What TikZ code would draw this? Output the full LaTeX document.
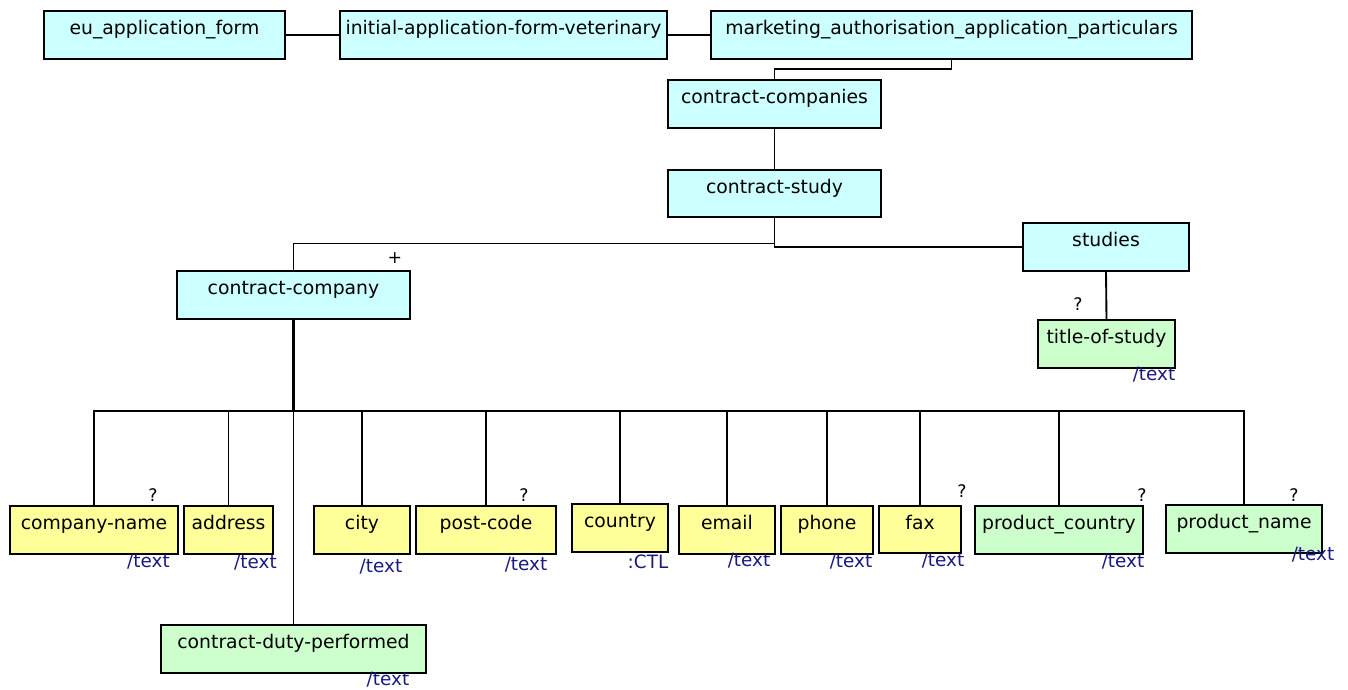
\documentclass[tikz,border=0pt]{standalone}
\usepackage{fontspec}
\setmainfont{DejaVu Sans}
\definecolor{cyanfill}{RGB}{204,255,255}
\definecolor{yelfill}{RGB}{255,255,153}
\definecolor{grnfill}{RGB}{204,255,204}
\definecolor{typeblue}{RGB}{25,25,130}
\tikzset{
  box/.style={draw=black,line width=1.6pt,inner sep=0pt,outer sep=0pt},
  lbl/.style={inner sep=0pt,font=\fontsize{14.1}{16}\selectfont},
  typ/.style={inner sep=0pt,text=typeblue,font=\fontsize{13.8}{16}\selectfont},
  card/.style={inner sep=0pt,font=\fontsize{13}{15}\selectfont},
  conn/.style={line width=1.4pt},
  thick conn/.style={line width=2.2pt}
}
\newcommand\bx[7]{%
  \node[box,fill=#6,minimum width={(#4-#2)*0.75pt},minimum height={(#5-#3)*0.75pt},anchor=north west] (#1) at (#2,#3) {};
  \node[lbl,anchor=base] (#1-t) at ([yshift=-17.3pt]#1.north) {#7};}
\begin{document}
\begin{tikzpicture}[x=0.75pt,y=-0.75pt]
\useasboundingbox (0,0) rectangle (1348,689);
% top row
\bx{eu}{44}{11}{285}{59}{cyanfill}{eu\_application\_form}
\bx{init}{340}{11}{667}{59}{cyanfill}{initial-application-form-veterinary}
\bx{mk}{711}{11}{1192}{59}{cyanfill}{marketing\_authorisation\_application\_particulars}
\bx{ccs}{668}{80}{881}{128}{cyanfill}{contract-companies}
\bx{cs}{668}{170}{881}{217}{cyanfill}{contract-study}
\bx{cc}{177}{271}{410}{319}{cyanfill}{contract-company}
\bx{st}{1023}{223}{1189}{271}{cyanfill}{studies}
\bx{tos}{1038}{320}{1175}{368}{grnfill}{title-of-study}
% bottom row
\bx{cn}{10}{506}{178}{554}{yelfill}{company-name}
\bx{ad}{184}{506}{273}{554}{yelfill}{address}
\bx{ci}{314}{506}{410}{554}{yelfill}{city}
\bx{pc}{416}{506}{556}{554}{yelfill}{post-code}
\bx{co}{572}{504}{668}{552}{yelfill}{country}
\bx{em}{679}{506}{775}{554}{yelfill}{email}
\bx{ph}{781}{506}{873}{554}{yelfill}{phone}
\bx{fx}{879}{506}{961}{553}{yelfill}{fax}
\bx{pco}{975}{506}{1143}{554}{grnfill}{product\_country}
\bx{pn}{1166}{505}{1322}{553}{grnfill}{product\_name}
\bx{cdp}{161}{625}{426}{673}{grnfill}{contract-duty-performed}
% connectors
\draw[conn] (eu.east) -- (init.west);
\draw[conn] (init.east) -- (mk.west);
\draw[conn] (mk.south) -- ++(0,10) -| (ccs.north);
\draw[conn] (ccs.south) -- (cs.north);
\draw[conn] (cs.south) -- ++(0,26.5) -| (cc.north);
\draw[conn] (cs.south) |- (st.west);
\draw[conn] (st.south) -- (tos.north);
\coordinate (bus) at (293.5,411);
\draw[thick conn] (cc.south) -- (bus);
\foreach \n in {cn,ad,ci,pc,co,em,ph,fx,pco,pn}{\draw[conn] (bus) -| (\n.north);}
\draw[conn] (bus) -- (cdp.north);
% cardinalities
\node[card] (plus) at (395,258) {+};
\node[card] (q1) at (1078,304) {?};
\node[card] (q2) at (153,495) {?};
\node[card] (q3) at (524,495) {?};
\node[card] (q4) at (962,491) {?};
\node[card] (q5) at (1142,495) {?};
\node[card] (q6) at (1294,495) {?};
% types
\node[typ] (t1) at (148.5,562) {/text};
\node[typ] (t2) at (255.5,563) {/text};
\node[typ] (t3) at (381,567) {/text};
\node[typ] (t4) at (526,565) {/text};
\node[typ] (t5) at (648,562) {:CTL};
\node[typ] (t6) at (749,561) {/text};
\node[typ] (t7) at (851,562) {/text};
\node[typ] (t8) at (943,561) {/text};
\node[typ] (t9) at (1123,562) {/text};
\node[typ] (t10) at (1313,555) {/text};
\node[typ] (t11) at (1154,375) {/text};
\node[typ] (t12) at (388,680) {/text};
\end{tikzpicture}
\end{document}
